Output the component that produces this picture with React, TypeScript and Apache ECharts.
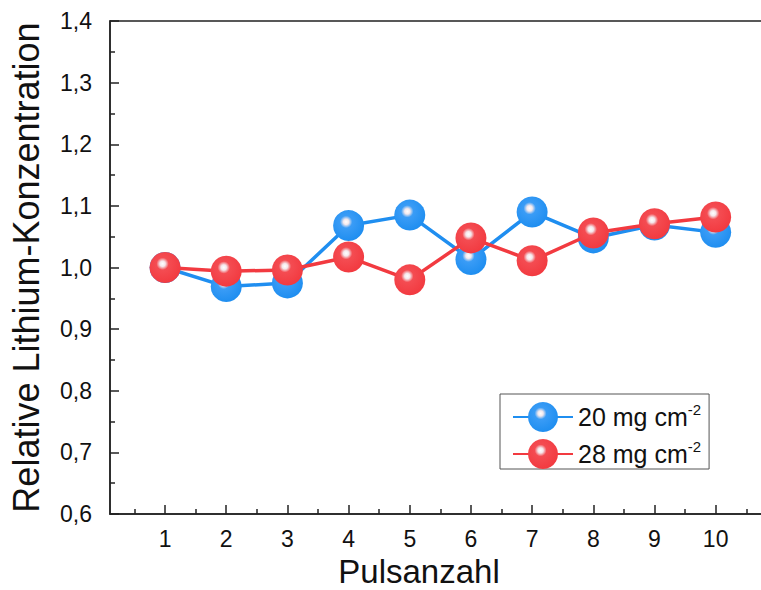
import React, { useEffect, useRef } from "react";
import * as echarts from "echarts";

const pulses = [1, 2, 3, 4, 5, 6, 7, 8, 9, 10];
const series20 = [1.0, 0.969, 0.975, 1.068, 1.085, 1.013, 1.09, 1.048, 1.069, 1.057];
const series28 = [1.0, 0.994, 0.996, 1.017, 0.98, 1.048, 1.011, 1.056, 1.071, 1.082];
const seriesNames = ["20 mg cm", "28 mg cm"];
const xTickMajor = [1, 2, 3, 4, 5, 6, 7, 8, 9, 10];
const xTickMinor = [0.5, 1.5, 2.5, 3.5, 4.5, 5.5, 6.5, 7.5, 8.5, 9.5, 10.5];

const FONT = "'Liberation Sans', Arial, sans-serif";

function sphere(base: string, mid: string) {
  return new echarts.graphic.RadialGradient(0.42, 0.38, 0.62, [
    { offset: 0, color: "#ffffff" },
    { offset: 0.14, color: "#f4e8ec" },
    { offset: 0.32, color: mid },
    { offset: 1, color: base },
  ]);
}

export default function App() {
  const ref = useRef<HTMLDivElement>(null);
  useEffect(() => {
    if (!ref.current) return;
    const chart = echarts.init(ref.current, undefined, { renderer: "svg" });
    const blue = "#1f8ef0";
    const red = "#f23a40";
    chart.setOption({
      animation: false,
      backgroundColor: "#ffffff",
      grid: {
        left: 110,
        top: 21,
        bottom: 76,
        right: -3,
        outerBoundsMode: "none",
        containLabel: false,
        show: true,
        borderColor: "#222",
        borderWidth: 1.5,
        backgroundColor: "transparent",
      },
      legend: {
        orient: "vertical",
        left: 500,
        top: 394,
        itemWidth: 60,
        itemHeight: 37.5,
        itemGap: 7,
        itemTextGap: 7,
        padding: [8, 8, 0, 12],
        borderColor: "#555",
        borderWidth: 1,
        data: seriesNames,
        formatter: (name: string) => `{a|${name}}{s|-2}`,
        textStyle: {
          fontFamily: FONT,
          color: "#111",
          rich: {
            a: { fontSize: 25, lineHeight: 30, fontFamily: FONT, color: "#111" },
            s: { fontSize: 15, lineHeight: 15, verticalAlign: "top", fontFamily: FONT, color: "#111" },
          },
        },
      },
      xAxis: [
        {
          type: "value",
          min: 0.1,
          max: 10.79,
          name: "Pulsanzahl",
          nameLocation: "middle",
          nameGap: 42,
          nameMoveOverlap: false,
          nameTextStyle: {
            fontSize: 33,
            lineHeight: 30,
            fontFamily: FONT,
            color: "#111",
            padding: [0, 36, 0, 0],
          },
          axisLine: { show: true, lineStyle: { color: "#222", width: 1.5 } },
          axisTick: {
            show: true,
            inside: true,
            length: 9,
            customValues: xTickMajor,
            lineStyle: { color: "#222", width: 1.5 },
          },
          axisLabel: {
            show: true,
            customValues: xTickMajor,
            margin: 13,
            fontSize: 23,
            lineHeight: 23,
            fontFamily: FONT,
            color: "#111",
          },
          splitLine: { show: false },
        },
        {
          type: "value",
          min: 0.1,
          max: 10.79,
          position: "bottom",
          axisLine: { show: false },
          axisTick: {
            show: true,
            inside: true,
            length: 5,
            customValues: xTickMinor,
            lineStyle: { color: "#222", width: 1.5 },
          },
          axisLabel: { show: false },
          splitLine: { show: false },
        },
      ],
      yAxis: {
        type: "value",
        min: 0.6,
        max: 1.4,
        interval: 0.1,
        name: "Relative Lithium-Konzentration",
        nameLocation: "middle",
        nameGap: 66,
        nameMoveOverlap: false,
        nameTextStyle: { fontSize: 36, fontFamily: FONT, color: "#111" },
        axisLine: { show: true, lineStyle: { color: "#222", width: 1.5 } },
        axisTick: { show: true, inside: true, length: 9, lineStyle: { color: "#222", width: 1.5 } },
        minorTick: { show: true, splitNumber: 2, length: 5, lineStyle: { color: "#222", width: 1.5 } },
        axisLabel: {
          margin: 18,
          fontSize: 23,
          fontFamily: FONT,
          color: "#111",
          formatter: (v: number) => v.toFixed(1).replace(".", ","),
        },
        splitLine: { show: false },
        minorSplitLine: { show: false },
      },
      series: [
        {
          name: seriesNames[0],
          type: "line",
          data: pulses.map((p, i) => [p, series20[i]]),
          symbol: "circle",
          symbolSize: 31,
          lineStyle: { color: blue, width: 3.5 },
          itemStyle: { color: sphere(blue, "#3a9cf6"), borderWidth: 0 },
          z: 2,
        },
        {
          name: seriesNames[1],
          type: "line",
          data: pulses.map((p, i) => [p, series28[i]]),
          symbol: "circle",
          symbolSize: 31,
          lineStyle: { color: red, width: 3.5 },
          itemStyle: { color: sphere(red, "#f44c52"), borderWidth: 0 },
          z: 3,
        },
      ],
    });
    return () => chart.dispose();
  }, []);
  return (
    <div
      ref={ref}
      style={{ position: "absolute", left: 0, top: 0, width: 761, height: 590, background: "#fff" }}
    />
  );
}
